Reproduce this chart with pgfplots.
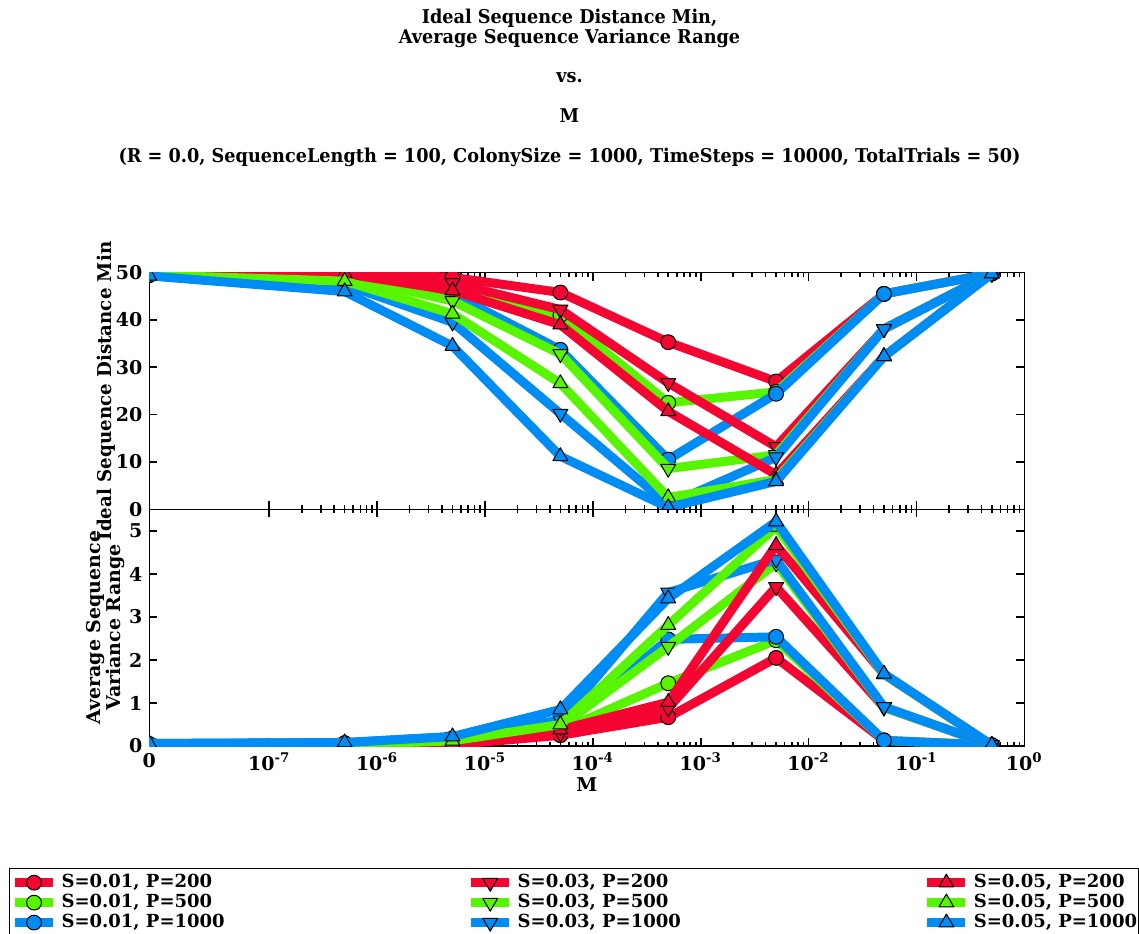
\documentclass[border=0pt]{standalone}
\usepackage{fontspec}
\setmainfont{DejaVu Serif}
\usepackage{pgfplots}
\usepackage{pgfplotstable}
\pgfplotsset{compat=1.18}

\definecolor{cR}{RGB}{245,5,50}
\definecolor{cG}{RGB}{88,245,0}
\definecolor{cB}{RGB}{0,140,245}

% x = log10(M); M = 0 is put at the left edge (-8.112)
% a = S 0.01, b = S 0.03, c = S 0.05 ; 1,2,3 = P 200, 500, 1000
\pgfplotstableread{
x        a1   a2   a3   b1   b2   b3   c1   c2   c3
-8.112   49.5 49.5 49.5 49.5 49.5 49.5 49.5 49.5 49.3
-6.30103 50.0 49.6 48.8 50.0 49.2 47.5 49.8 48.2 46.0
-5.30103 49.0 47.0 45.5 47.8 44.0 39.5 46.2 41.3 34.5
-4.30103 45.8 41.0 33.7 42.2 32.8 20.2 39.0 26.6 11.2
-3.30103 35.3 22.5 10.5 26.7 8.6  1.0  20.7 2.5  0.4
-2.30103 27.0 24.8 24.4 13.2 11.5 11.0 7.3  6.3  5.9
-1.30103 45.5 45.5 45.5 38.1 38.1 38.1 32.3 32.3 32.3
-0.30103 49.8 49.8 49.8 49.8 49.8 49.8 49.8 49.8 49.8
}\topdata

\pgfplotstableread{
x        a1   a2   a3   b1   b2   b3   c1   c2   c3
-8.112   0.03 0.03 0.05 0.03 0.03 0.06 0.03 0.03 0.06
-6.30103 0.00 0.02 0.07 0.00 0.02 0.08 0.00 0.03 0.08
-5.30103 0.03 0.08 0.18 0.05 0.10 0.22 0.06 0.12 0.22
-4.30103 0.25 0.35 0.42 0.30 0.45 0.60 0.38 0.50 0.85
-3.30103 0.67 1.46 2.48 0.88 2.31 3.57 1.02 2.81 3.43
-2.30103 2.05 2.46 2.54 3.70 4.25 4.34 4.67 5.10 5.22
-1.30103 0.13 0.13 0.13 0.90 0.90 0.91 1.67 1.67 1.68
-0.30103 0.02 0.02 0.02 0.02 0.02 0.02 0.02 0.02 0.02
}\botdata

\pgfplotsset{
  mk/.style n args={3}{color=#1, line width=4.5pt, line join=round, mark=#2,
    mark size=#3, mark options={fill=#1, draw=black, line width=0.5pt}},
  dn/.style={every mark/.append style={rotate=180}},
  panel/.style={
    scale only axis, width=437.5pt, height=118.35pt,
    xmin=-8.112, xmax=0,
    xtick={-8.112,-7,-6,-5,-4,-3,-2,-1,0},
    minor xtick={-6.69897,-6.52288,-6.39794,-6.30103,-6.22185,-6.15490,-6.09691,-6.04576,
      -5.69897,-5.52288,-5.39794,-5.30103,-5.22185,-5.15490,-5.09691,-5.04576,
      -4.69897,-4.52288,-4.39794,-4.30103,-4.22185,-4.15490,-4.09691,-4.04576,
      -3.69897,-3.52288,-3.39794,-3.30103,-3.22185,-3.15490,-3.09691,-3.04576,
      -2.69897,-2.52288,-2.39794,-2.30103,-2.22185,-2.15490,-2.09691,-2.04576,
      -1.69897,-1.52288,-1.39794,-1.30103,-1.22185,-1.15490,-1.09691,-1.04576,
      -0.69897,-0.52288,-0.39794,-0.30103,-0.22185,-0.15490,-0.09691,-0.04576},
    major tick length=4pt, minor tick length=2pt,
    every tick/.style={black, line width=0.8pt},
    axis line style={line width=0.8pt},
    tick label style={font=\bfseries\fontsize{9.5}{10}\selectfont},
    label style={font=\bfseries\fontsize{9.5}{10}\selectfont},
    /pgf/number format/assume math mode=true,
    clip marker paths=true,
  },
}

\begin{document}
\begin{tikzpicture}
\useasboundingbox (0,0) rectangle (569.5pt,-466.5pt);

\node[anchor=north, align=center, font=\bfseries\fontsize{9.5}{9.9}\selectfont,
  xscale=0.93, transform shape]
  at (284.75pt,-1pt)
  {Ideal Sequence Distance Min,\\Average Sequence Variance Range\\[9.9pt]vs.\\[9.9pt]M\\[9.9pt](R = 0.0, SequenceLength = 100, ColonySize = 1000, TimeSteps = 10000, TotalTrials = 50)};

\begin{axis}[panel,
  at={(74.65pt,-254.65pt)}, anchor=south west,
  ymin=0, ymax=50, ytick={0,10,20,30,40,50},
  xticklabels={,,,,,,,,},
  ylabel={Ideal Sequence Distance Min},
  ylabel style={at={(axis description cs:-0.0495,0.5)}, anchor=center, xscale=0.96},
]
\addplot[mk={cR}{*}{3.7pt}] table[y=a1]{\topdata};
\addplot[mk={cG}{*}{3.7pt}] table[y=a2]{\topdata};
\addplot[mk={cB}{*}{3.7pt}] table[y=a3]{\topdata};
\addplot[mk={cR}{triangle*}{4.3pt}, dn] table[y=b1]{\topdata};
\addplot[mk={cG}{triangle*}{4.3pt}, dn] table[y=b2]{\topdata};
\addplot[mk={cB}{triangle*}{4.3pt}, dn] table[y=b3]{\topdata};
\addplot[mk={cR}{triangle*}{4.3pt}] table[y=c1]{\topdata};
\addplot[mk={cG}{triangle*}{4.3pt}] table[y=c2]{\topdata};
\addplot[mk={cB}{triangle*}{4.3pt}] table[y=c3]{\topdata};
\end{axis}

\begin{axis}[panel,
  at={(74.65pt,-254.65pt)}, anchor=north west,
  ymin=0, ymax=5.505, ytick={0,1,2,3,4,5},
  xticklabels={0,10\textsuperscript{-7},10\textsuperscript{-6},10\textsuperscript{-5},10\textsuperscript{-4},10\textsuperscript{-3},10\textsuperscript{-2},10\textsuperscript{-1},10\textsuperscript{0}},
  xlabel={M},
  xlabel style={at={(axis description cs:0.5,-0.165)}, anchor=center},
  ylabel={Average Sequence\\Variance Range},
  ylabel style={at={(axis description cs:-0.0495,0.5)}, anchor=center, align=center},
  legend columns=3, transpose legend,
  legend image code/.code={\draw[mark repeat=2,mark phase=2] plot coordinates {(0pt,0pt)(9.5pt,0pt)(19pt,0pt)};},
  legend style={at={(axis description cs:-0.1603,-0.5154)}, anchor=north west,
    draw=black, line width=0.5pt, inner xsep=0.5pt, inner ysep=1pt, row sep=-2.2pt,
    nodes={inner xsep=0pt},
    font=\bfseries\fontsize{9}{10}\selectfont, cells={anchor=west},
    /tikz/every odd column/.append style={column sep=2pt},
    /tikz/every even column/.append style={column sep=121pt}},
]
\addplot[mk={cR}{*}{3.7pt}] table[y=a1]{\botdata};
\addlegendentry{S=0.01, P=200}
\addplot[mk={cG}{*}{3.7pt}] table[y=a2]{\botdata};
\addlegendentry{S=0.01, P=500}
\addplot[mk={cB}{*}{3.7pt}] table[y=a3]{\botdata};
\addlegendentry{S=0.01, P=1000}
\addplot[mk={cR}{triangle*}{4.3pt}, dn] table[y=b1]{\botdata};
\addlegendentry{S=0.03, P=200}
\addplot[mk={cG}{triangle*}{4.3pt}, dn] table[y=b2]{\botdata};
\addlegendentry{S=0.03, P=500}
\addplot[mk={cB}{triangle*}{4.3pt}, dn] table[y=b3]{\botdata};
\addlegendentry{S=0.03, P=1000}
\addplot[mk={cR}{triangle*}{4.3pt}] table[y=c1]{\botdata};
\addlegendentry{S=0.05, P=200}
\addplot[mk={cG}{triangle*}{4.3pt}] table[y=c2]{\botdata};
\addlegendentry{S=0.05, P=500}
\addplot[mk={cB}{triangle*}{4.3pt}] table[y=c3]{\botdata};
\addlegendentry{S=0.05, P=1000}
\end{axis}
\end{tikzpicture}
\end{document}
